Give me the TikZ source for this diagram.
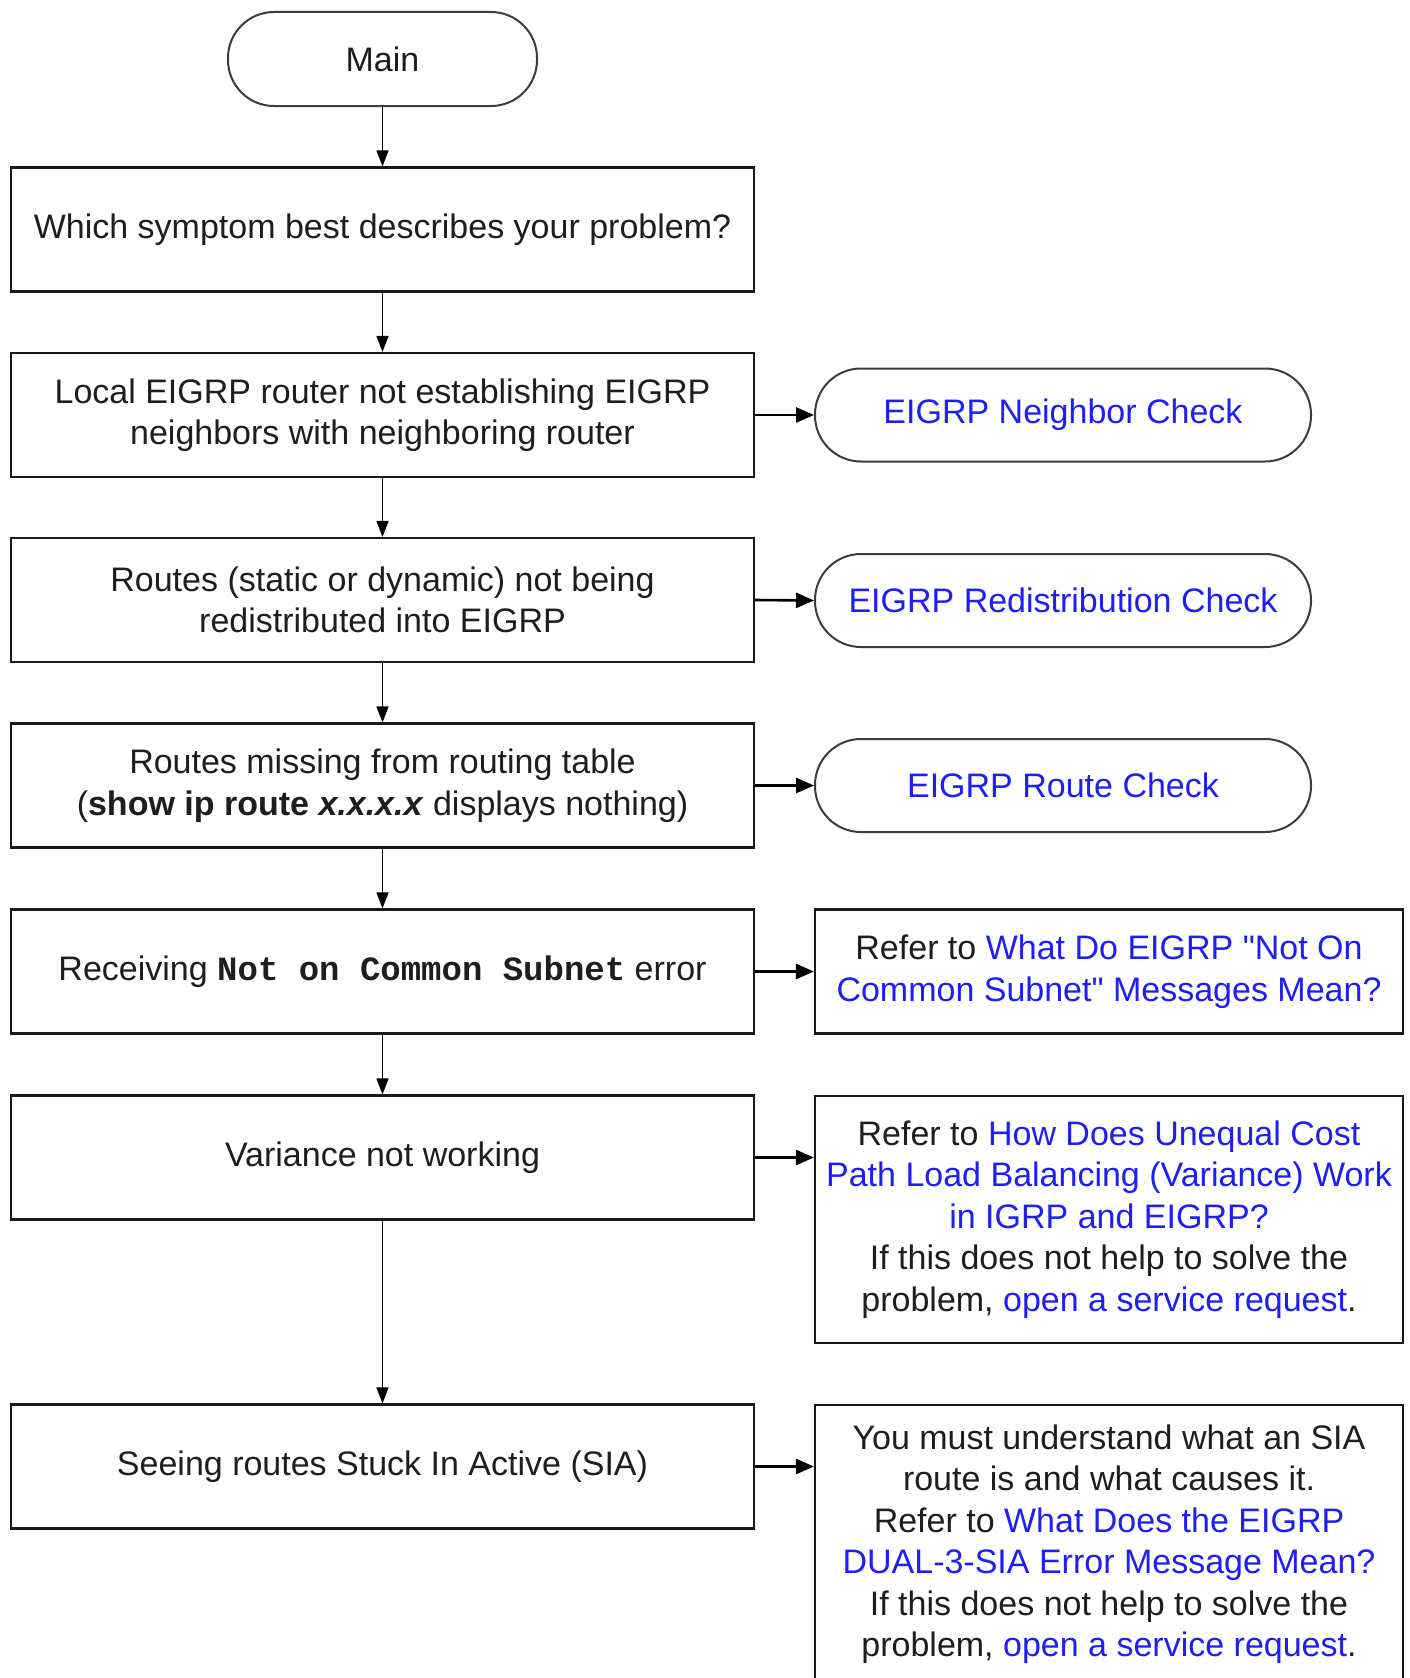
\documentclass[tikz,border=0pt]{standalone}
\usepackage{fontspec}
\setmainfont{Liberation Sans}
\newfontfamily\rawfont{Liberation Sans}[Ligatures=TeXOff]
\newfontfamily\monofam{Liberation Mono}
\usetikzlibrary{arrows.meta}
\definecolor{txt}{RGB}{30,30,30}
\definecolor{lnk}{RGB}{30,30,245}
\definecolor{edge}{RGB}{25,25,25}
\newcommand{\lk}[1]{\textcolor{lnk}{#1}}
\begin{document}
\begin{tikzpicture}[x=1pt,y=-1pt,
  font=\fontsize{34}{41.5}\selectfont, text=txt,
  box/.style={draw=edge, line width=2.2pt, rectangle, align=center, inner sep=2pt},
  leftbox/.style={box, minimum width=743pt, minimum height=124pt},
  rightbox/.style={box, minimum width=588pt},
  term/.style={draw=edge!85!white, line width=2pt, rectangle, rounded corners=46pt, minimum height=93pt, align=center, inner sep=2pt},
  arr/.style={draw=black, line width=1.6pt, -{Triangle[length=16pt,width=12pt]}},
  harr/.style={draw=black, line width=2.6pt, -{Triangle[length=18pt,width=15pt]}}
]
\useasboundingbox (0,0) rectangle (1409,1678);
\fill[white] (0,0) rectangle (1409,1678);

\node[term, minimum width=309pt, minimum height=94pt] (main) at (382.5,59) {Main};

\node[leftbox] (b1) at (382.5,229.5) {Which symptom best describes your problem?};
\node[leftbox] (b2) at (382.5,415) {Local EIGRP router not establishing EIGRP\\neighbors with neighboring router};
\node[leftbox] (b3) at (382.5,600) {Routes (static or dynamic) not being\\redistributed into EIGRP};
\node[leftbox] (b4) at (382.5,785.5) {Routes missing from routing table\\(\textbf{show ip route \textit{x.x.x.x}} displays nothing)};
\node[leftbox] (b5) at (382.5,971.5) {Receiving {\monofam\bfseries Not on Common Subnet} error};
\node[leftbox] (b6) at (382.5,1157.5) {Variance not working};
\node[leftbox] (b7) at (382.5,1466.5) {Seeing routes Stuck In Active (SIA)};

\node[term, minimum width=496pt] (t1) at (1063,415) {\lk{EIGRP Neighbor Check}};
\node[term, minimum width=496pt] (t2) at (1063,600.5) {\lk{EIGRP Redistribution Check}};
\node[term, minimum width=496pt] (t3) at (1063,785.5) {\lk{EIGRP Route Check}};

\node[rightbox, minimum height=124pt, font=\fontsize{34}{41.5}\rawfont] (r5) at (1109,971.5) {Refer to \lk{What Do EIGRP "Not On}\\\lk{Common Subnet" Messages Mean?}};
\node[rightbox, minimum height=247pt] (r6) at (1109,1219.5) {Refer to \lk{How Does Unequal Cost}\\\lk{Path Load Balancing (Variance) Work}\\\lk{in IGRP and EIGRP?}\\If this does not help to solve the\\problem, \lk{open a service request}.};
\node[rightbox, minimum height=278pt] (r7) at (1109,1544) {You must understand what an SIA\\route is and what causes it.\\Refer to \lk{What Does the EIGRP}\\\lk{DUAL-3-SIA Error Message Mean?}\\If this does not help to solve the\\problem, \lk{open a service request}.};

\draw[arr] (main) -- (b1);
\draw[arr] (b1) -- (b2);
\draw[arr] (b2) -- (b3);
\draw[arr] (b3) -- (b4);
\draw[arr] (b4) -- (b5);
\draw[arr] (b5) -- (b6);
\draw[arr] (b6) -- (b7);

\draw[harr] (b2.east) -- (t1.west);
\draw[harr] (b3.east) -- (t2.west);
\draw[harr] (b4.east) -- (t3.west);
\draw[harr] (b5.east) -- (r5.west);
\draw[harr] (b6.east) -- (b6.east -| r6.west);
\draw[harr] (b7.east) -- (b7.east -| r7.west);
\end{tikzpicture}
\end{document}
